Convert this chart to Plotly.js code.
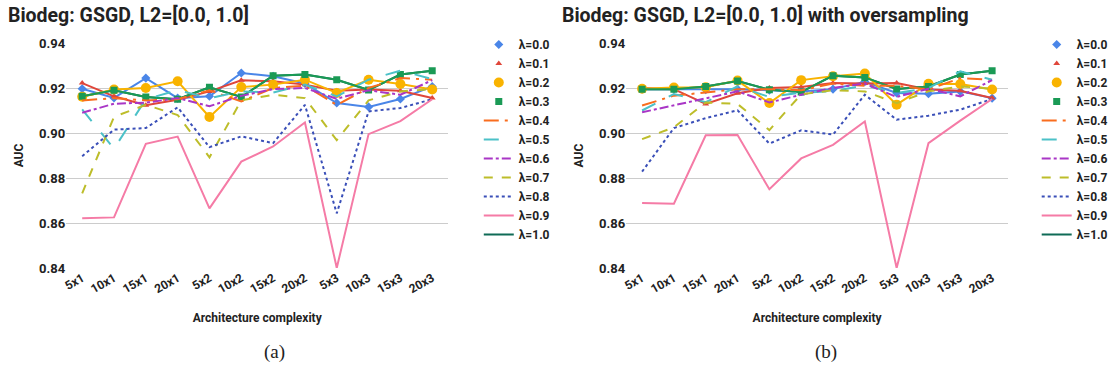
<!DOCTYPE html>
<html>
<head>
<meta charset="utf-8">
<script src="https://cdn.plot.ly/plotly-3.0.1.min.js"></script>
<style>html,body{margin:0;padding:0;background:#fff;}#chart{width:1113px;height:377px;}</style>
</head>
<body>
<div id="chart"></div>
<script>
const categories = ['5x1','10x1','15x1','20x1','5x2','10x2','15x2','20x2','5x3','10x3','15x3','20x3'];
const seriesNames = ['λ=0.0','λ=0.1','λ=0.2','λ=0.3','λ=0.4','λ=0.5','λ=0.6','λ=0.7','λ=0.8','λ=0.9','λ=1.0'];

// Panel (a): without oversampling
const a_l00 = [0.9197,0.9156,0.9244,0.9155,0.9163,0.9267,0.9252,0.9220,0.9133,0.9116,0.9151,0.9207];
const a_l01 = [0.9222,0.9163,0.9123,0.9148,0.9185,0.9234,0.9230,0.9215,0.9188,0.9193,0.9188,0.9156];
const a_l02 = [0.9161,0.9193,0.9200,0.9230,0.9071,0.9204,0.9215,0.9237,0.9178,0.9237,0.9218,0.9193];
const a_l03 = [0.9163,0.9190,0.9160,0.9150,0.9203,0.9160,0.9255,0.9260,0.9237,0.9191,0.9260,0.9277];
const a_l04 = [0.9145,0.9155,0.9145,0.9150,0.9190,0.9140,0.9200,0.9210,0.9125,0.9200,0.9244,0.9237];
const a_l05 = [0.9105,0.8930,0.9150,0.9190,0.9155,0.9185,0.9180,0.9215,0.9163,0.9237,0.9277,0.9240];
const a_l06 = [0.9090,0.9130,0.9135,0.9155,0.9119,0.9165,0.9195,0.9200,0.9152,0.9190,0.9170,0.9235];
const a_l07 = [0.8732,0.9072,0.9125,0.9080,0.8892,0.9145,0.9170,0.9155,0.8968,0.9145,0.9185,0.9195];
const a_l08 = [0.8897,0.9015,0.9022,0.9114,0.8937,0.8985,0.8955,0.9125,0.8643,0.9096,0.9111,0.9150];
const a_l09 = [0.8621,0.8625,0.8952,0.8984,0.8665,0.8873,0.8940,0.9047,0.8400,0.8995,0.9053,0.9150];
const a_l10 = [0.9163,0.9190,0.9160,0.9150,0.9203,0.9160,0.9255,0.9260,0.9237,0.9191,0.9260,0.9277];

// Panel (b): with oversampling
const b_l00 = [0.9195,0.9195,0.9192,0.9195,0.9190,0.9185,0.9195,0.9228,0.9178,0.9175,0.9185,0.9155];
const b_l01 = [0.9200,0.9195,0.9129,0.9177,0.9200,0.9205,0.9222,0.9220,0.9222,0.9193,0.9188,0.9156];
const b_l02 = [0.9197,0.9202,0.9203,0.9233,0.9133,0.9235,0.9252,0.9264,0.9126,0.9219,0.9218,0.9193];
const b_l03 = [0.9195,0.9195,0.9207,0.9231,0.9192,0.9182,0.9255,0.9247,0.9196,0.9207,0.9260,0.9277];
const b_l04 = [0.9122,0.9166,0.9180,0.9195,0.9195,0.9190,0.9220,0.9210,0.9210,0.9193,0.9244,0.9237];
const b_l05 = [0.9100,0.9173,0.9137,0.9207,0.9160,0.9180,0.9185,0.9212,0.9178,0.9200,0.9274,0.9237];
const b_l06 = [0.9092,0.9122,0.9155,0.9185,0.9136,0.9170,0.9200,0.9220,0.9160,0.9197,0.9163,0.9235];
const b_l07 = [0.8973,0.9025,0.9136,0.9129,0.9013,0.9172,0.9190,0.9185,0.9133,0.9185,0.9207,0.9197];
const b_l08 = [0.8828,0.9022,0.9066,0.9101,0.8953,0.9012,0.8993,0.9170,0.9059,0.9077,0.9104,0.9151];
const b_l09 = [0.8689,0.8686,0.8990,0.8991,0.8750,0.8887,0.8947,0.9051,0.8400,0.8955,0.9055,0.9151];
const b_l10 = [0.9195,0.9195,0.9207,0.9231,0.9192,0.9182,0.9255,0.9247,0.9196,0.9207,0.9260,0.9277];

const panelA = [a_l00,a_l01,a_l02,a_l03,a_l04,a_l05,a_l06,a_l07,a_l08,a_l09,a_l10];
const panelB = [b_l00,b_l01,b_l02,b_l03,b_l04,b_l05,b_l06,b_l07,b_l08,b_l09,b_l10];

const colors = ['#4a86e8','#e0463a','#f9b300','#1a9a55','#f96d1e','#4cc1c8','#a936c6','#bdbd2a','#3a4fb8','#f57ba6','#0f6b56'];
const dashes = ['solid','solid','solid','solid','longdashdot','longdash','dashdot','dash','dot','solid','solid'];
const symbols = ['diamond','triangle-up','circle','square',null,null,null,null,null,null,null];
const msizes = [7,6,10,7,0,0,0,0,0,0,0];

const traces = [];
function addPanel(data, xa, ya, legendId) {
  // draw order: λ=1.0 underneath, then λ=0.0 ... λ=0.9
  const order = [10,0,1,2,3,4,5,6,7,8,9];
  order.forEach(i => {
    const hasMarker = symbols[i] !== null;
    traces.push({
      x: categories, y: data[i], xaxis: xa, yaxis: ya,
      type: 'scatter', mode: 'lines', name: seriesNames[i],
      line: {color: colors[i], width: 2, dash: dashes[i]},
      showlegend: !hasMarker, legend: legendId, legendrank: i + 1,
      hoverinfo: 'skip'
    });
    if (hasMarker) {
      traces.push({
        x: categories, y: data[i], xaxis: xa, yaxis: ya,
        type: 'scatter', mode: 'markers', name: seriesNames[i],
        marker: {color: colors[i], symbol: symbols[i], size: msizes[i]},
        showlegend: true, legend: legendId, legendrank: i + 1,
        hoverinfo: 'skip'
      });
    }
  });
}
addPanel(panelA, 'x', 'y', 'legend');
addPanel(panelB, 'x2', 'y2', 'legend2');

const W = 1113, H = 377;
const FF = 'Roboto, Arial, sans-serif';
const tickFont = {family: FF, size: 13, color: '#222', weight: 'bold'};
const xTickFont = {family: FF, size: 12, color: '#222', weight: 'bold'};
const axTitleFont = {family: FF, size: 12, color: '#222', weight: 'bold'};
const yDomain = [1 - 268/H, 1 - 43/H];

function xaxis(dom, anchor) {
  return {
    domain: dom, anchor: anchor, type: 'category', range: [-0.5, 11.5],
    showgrid: false, zeroline: false, showline: false, ticks: '',
    tickangle: -30, tickfont: xTickFont,
    title: {text: 'Architecture complexity', font: axTitleFont, standoff: 18}
  };
}
function yaxis(anchor) {
  return {
    domain: yDomain, anchor: anchor, range: [0.84, 0.94], dtick: 0.02, tickformat: '.2f',
    showgrid: true, gridcolor: '#cccccc', gridwidth: 1, zeroline: false, showline: false,
    ticks: '', ticklen: 0, tickfont: tickFont,
    title: {text: 'AUC', font: axTitleFont, standoff: 12}
  };
}
function legendCfg(xpx) {
  return {
    x: xpx / W, xanchor: 'left', y: 1 - 30/H, yanchor: 'top',
    font: {family: FF, size: 12, color: '#222', weight: 'bold'},
    bgcolor: 'rgba(0,0,0,0)', borderwidth: 0, tracegroupgap: 0, itemwidth: 30,
    traceorder: 'normal'
  };
}

const layout = {
  width: W, height: H,
  margin: {l: 0, r: 0, t: 0, b: 0},
  paper_bgcolor: '#fff', plot_bgcolor: '#fff',
  showlegend: true,
  xaxis: xaxis([67/W, 453/W], 'y'),
  yaxis: yaxis('x'),
  xaxis2: xaxis([633/W, 1019/W], 'y2'),
  yaxis2: yaxis('x2'),
  legend: legendCfg(484),
  legend2: legendCfg(1048),
  annotations: [
    {text: 'Biodeg: GSGD, L2=[0.0, 1.0]', x: 6/W, y: 1 - 2/H, xref: 'paper', yref: 'paper',
     xanchor: 'left', yanchor: 'top', showarrow: false,
     font: {family: FF, size: 19.5, color: '#222', weight: 'bold'}},
    {text: 'Biodeg: GSGD, L2=[0.0, 1.0] with oversampling', x: 566/W, y: 1 - 2/H, xref: 'paper', yref: 'paper',
     xanchor: 'left', yanchor: 'top', showarrow: false,
     font: {family: FF, size: 19.5, color: '#222', weight: 'bold'}},
    {text: '(a)', x: 277/W, y: 1 - 352/H, xref: 'paper', yref: 'paper',
     xanchor: 'center', yanchor: 'middle', showarrow: false,
     font: {family: '"Liberation Serif", "Times New Roman", serif', size: 19, color: '#222'}},
    {text: '(b)', x: 835/W, y: 1 - 352/H, xref: 'paper', yref: 'paper',
     xanchor: 'center', yanchor: 'middle', showarrow: false,
     font: {family: '"Liberation Serif", "Times New Roman", serif', size: 19, color: '#222'}}
  ]
};

Plotly.newPlot('chart', traces, layout, {displayModeBar: false, staticPlot: true});
</script>
</body>
</html>
